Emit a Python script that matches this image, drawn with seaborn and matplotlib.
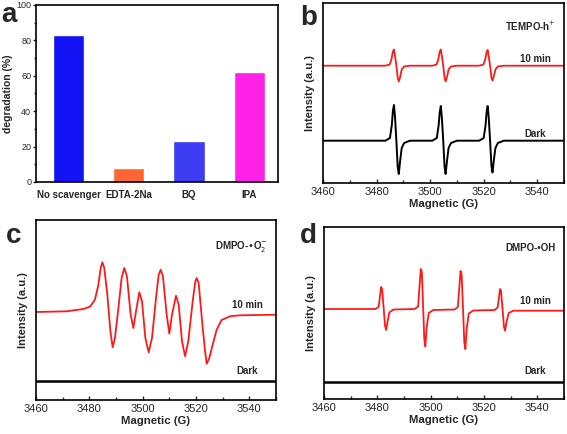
import seaborn as sns
import pandas as pd
import matplotlib.pyplot as plt
from matplotlib.ticker import MultipleLocator

# panel a: scavenger experiment
scavengers = ["No scavenger", "EDTA-2Na", "BQ", "IPA"]
degradation = [83, 8, 23, 62]
bar_colors = ["#1212f5", "#ff6633", "#3d3df5", "#ff22e6"]

# panel b: TEMPO-h+ spectra (field in G, intensity in a.u.)
b_10min_x = [3460, 3483.3, 3484.9, 3485.6, 3486.1, 3486.5, 3486.9, 3487.4, 3487.9, 3488.3, 3488.8, 3489.4, 3490.3, 3492.5,
             3500.8, 3502.4, 3503.1, 3503.6, 3504.0, 3504.4, 3504.9, 3505.4, 3505.8, 3506.3, 3506.9, 3507.8, 3510,
             3518.3, 3519.9, 3520.6, 3521.1, 3521.5, 3521.9, 3522.4, 3522.9, 3523.3, 3523.8, 3524.4, 3525.3, 3527.5, 3550]
b_10min_y = [117.3, 117.3, 118.5, 124, 131.5, 133.5, 127, 117.3, 105, 101.5, 106, 113.5, 116.5, 117.3,
             117.3, 118.5, 124, 131.5, 133.5, 127, 117.3, 105, 101.5, 106, 113.5, 116.5, 117.3,
             117.3, 118.5, 124, 131, 133, 126.5, 117.3, 105.5, 102.5, 107, 113.5, 116.5, 117.3, 117.3]
b_dark_x = [3460, 3483.3, 3485.0, 3485.7, 3486.1, 3486.5, 3486.9, 3487.4, 3487.9, 3488.3, 3488.8, 3489.4, 3490.3, 3492.5,
            3500.8, 3502.5, 3503.2, 3503.6, 3504.0, 3504.4, 3504.9, 3505.4, 3505.8, 3506.3, 3506.9, 3507.8, 3510,
            3518.3, 3520.0, 3520.7, 3521.1, 3521.5, 3521.9, 3522.4, 3522.9, 3523.3, 3523.8, 3524.4, 3525.3, 3527.5, 3550]
b_dark_y = [42.3, 42.3, 45, 58, 72, 78, 66, 42.3, 16, 9, 22, 35, 40, 42.3,
            42.3, 45, 58, 71, 77, 65, 42.3, 16, 9, 22, 35, 40, 42.3,
            42.3, 45, 57.5, 71, 77, 65, 42.3, 17, 10.5, 23, 35, 40, 42.3, 42.3]

# panel c: DMPO-O2- spectra
c_10min_x = [3460, 3471.5, 3477.75, 3480.25, 3482.1, 3483.4, 3484.25, 3484.9, 3485.6, 3486.75,
             3487.9, 3488.75, 3489.6, 3490.9, 3492.1, 3493.1, 3494.1, 3495.5, 3496.5, 3497.5,
             3498.75, 3499.75, 3501, 3502.25, 3503.5, 3505, 3506, 3506.75, 3507.6, 3509,
             3510, 3511, 3512.5, 3513.5, 3514.75, 3515.9, 3517.1, 3518.75, 3519.75, 3520.25,
             3521, 3522.4, 3523.4, 3524, 3525, 3526.25, 3527.75, 3529.6, 3532.75, 3536.5, 3550]
c_10min_y = [88, 88.7, 91, 93.3, 100.3, 115.3, 132, 137.7, 132, 105.3,
             68.7, 52.7, 62, 92, 122, 132, 123.7, 85.3, 72, 88.7,
             107.7, 98.7, 62, 47.7, 62, 102, 125.3, 130.3, 123.7, 85.3,
             66.3, 85.3, 104.3, 95.3, 58.7, 43.7, 58.7, 98.7, 118.7, 122,
             117, 75.3, 48.7, 36.3, 42, 55.3, 70.3, 80, 83.7, 84.7, 85.3]
c_dark_x = [3460, 3550]
c_dark_y = [18.7, 18.7]

# panel d: DMPO-OH spectra
d_10min_x = [3460, 3479.2, 3480.5, 3481.0, 3481.4, 3481.8, 3482.4, 3482.9, 3483.3, 3483.8, 3484.5, 3486,
             3494, 3495.3, 3495.8, 3496.3, 3496.7, 3497.2, 3497.6, 3498.0, 3498.5, 3499.3, 3501,
             3509, 3510.2, 3510.7, 3511.2, 3511.6, 3512.15, 3512.6, 3513.0, 3513.5, 3514.3, 3516,
             3524, 3525.1, 3525.6, 3526.0, 3526.4, 3527.0, 3527.5, 3527.9, 3528.5, 3529.3, 3531, 3550]
d_10min_y = [90, 90, 92, 103, 112, 110, 90, 73, 69, 77, 86.5, 89.5,
             90, 92.5, 112, 130, 127, 90, 60, 52.5, 72, 86, 89,
             89.5, 92, 110, 128, 125, 89, 57, 50, 70, 85.5, 88.5,
             89, 91.5, 101, 110, 108, 88.5, 72, 68.5, 78, 86, 88.3, 88.3]
d_dark_x = [3460, 3550]
d_dark_y = [17.3, 17.3]

sns.set_style("ticks")
plt.rcParams["font.family"] = ["Liberation Sans", "DejaVu Sans"]

W, H = 567, 434
fig = plt.figure(figsize=(W / 100, H / 100), dpi=100)


def box(left, right, top, bottom):
    return [left / W, (H - bottom) / H, (right - left) / W, (bottom - top) / H]


ax_a = fig.add_axes(box(36, 278, 5, 182))
ax_b = fig.add_axes(box(323, 564, 3, 183))
ax_c = fig.add_axes(box(36, 276, 220, 400))
ax_d = fig.add_axes(box(324, 564, 227, 399))

for ax in [ax_a, ax_b, ax_c, ax_d]:
    for s in ax.spines.values():
        s.set_linewidth(1.2)
        s.set_color("black")

# STEP 1: bar chart
df = pd.DataFrame({"Scavenger": scavengers, "Degradation": degradation})
sns.barplot(data=df, x="Scavenger", y="Degradation", hue="Scavenger",
            palette=bar_colors, width=0.52, saturation=1, legend=False, ax=ax_a)
ax_a.set_xlim(-0.54, 3.475)
ax_a.set_ylim(0, 100)
ax_a.yaxis.set_major_locator(MultipleLocator(20))
ax_a.yaxis.set_minor_locator(MultipleLocator(10))
ax_a.tick_params(axis="y", which="major", direction="out", length=2.5, width=1, labelsize=6.5, pad=1)
ax_a.tick_params(axis="y", which="minor", direction="out", length=1.5, width=1)
ax_a.tick_params(axis="x", length=0, labelsize=7, pad=6)
for lab in ax_a.get_xticklabels():
    lab.set_fontweight("bold")
ax_a.set_xlabel("")
ax_a.set_ylabel("degradation (%)", fontsize=7.5, fontweight="bold", labelpad=2)
fig.text(1 / W, 1 - 22 / H, "a", fontsize=20, fontweight="bold")


# STEP 2: EPR spectra
def epr_panel(ax, x1, y1, x2, y2, ylim, tag, tag_y, min_y, dark_y, letter, letter_xy):
    red = pd.DataFrame({"field": x1, "intensity": y1})
    dark = pd.DataFrame({"field": x2, "intensity": y2})
    sns.lineplot(data=red, x="field", y="intensity", color="#ff1a1a", lw=1.3,
                 sort=False, estimator=None, ax=ax)
    sns.lineplot(data=dark, x="field", y="intensity", color="black", lw=1.4 if len(x2) > 2 else 1.8,
                 sort=False, estimator=None, ax=ax)
    ax.set_xlim(3460, 3550)
    ax.set_ylim(*ylim)
    ax.xaxis.set_major_locator(MultipleLocator(20))
    ax.xaxis.set_minor_locator(MultipleLocator(10))
    ax.tick_params(axis="x", which="major", direction="in", length=3, width=1, labelsize=8, pad=3)
    ax.tick_params(axis="x", which="minor", direction="in", length=2, width=1)
    ax.set_yticks([])
    ax.set_xlabel("Magnetic (G)", fontsize=8.2, fontweight="bold", labelpad=1)
    ax.set_ylabel("Intensity (a.u.)", fontsize=8, fontweight="bold", labelpad=6)
    ax.text(0.965, tag_y, tag, transform=ax.transAxes, ha="right", va="center",
            fontsize=7, fontweight="bold")
    ax.text(0.88, min_y, "10 min", transform=ax.transAxes, ha="center", va="center",
            fontsize=7, fontweight="bold")
    ax.text(0.88, dark_y, "Dark", transform=ax.transAxes, ha="center", va="center",
            fontsize=7, fontweight="bold")
    fig.text(letter_xy[0] / W, 1 - letter_xy[1] / H, letter, fontsize=20, fontweight="bold")


epr_panel(ax_b, b_10min_x, b_10min_y, b_dark_x, b_dark_y, (0, 180),
          "TEMPO-h$^{+}$", 0.87, 0.69, 0.27, "b", (300, 25))
epr_panel(ax_c, c_10min_x, c_10min_y, c_dark_x, c_dark_y, (0, 180),
          "DMPO-•O$_2^{-}$", 0.85, 0.53, 0.16, "c", (6, 243))
epr_panel(ax_d, d_10min_x, d_10min_y, d_dark_x, d_dark_y, (0, 172),
          "DMPO-•OH", 0.88, 0.57, 0.16, "d", (300, 243))

fig.savefig("out.png", dpi=100)
